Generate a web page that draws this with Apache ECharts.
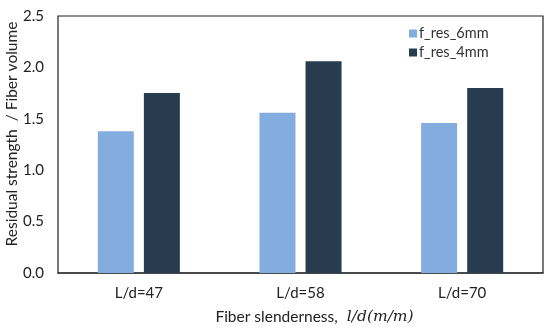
<!DOCTYPE html>
<html><head><meta charset="utf-8">
<script src="https://cdn.jsdelivr.net/npm/echarts@6/dist/echarts.min.js"></script>
<style>html,body{margin:0;padding:0;background:#fff}#c{width:550px;height:330px}</style>
</head><body><div id="c"></div>
<script>
const categories = ['L/d=47', 'L/d=58', 'L/d=70'];
const f_res_6mm = [1.38, 1.56, 1.46];
const f_res_4mm = [1.75, 2.06, 1.80];
const yTicks = { min: 0, max: 2.5, interval: 0.5 };

const chart = echarts.init(document.getElementById('c'));
const font = 'Lato, "Open Sans", sans-serif';
chart.setOption({
  animation: false,
  grid: { left: 58, right: 7, top: 16, bottom: 57, show: true, borderColor: '#222', borderWidth: 1.2, backgroundColor: 'transparent', outerBoundsMode: 'none', containLabel: false },
  legend: {
    orient: 'vertical', left: 404, top: 21, itemWidth: 8, itemHeight: 8, itemGap: 4,
    icon: 'rect',
    textStyle: { fontFamily: font, fontSize: 14.5, color: '#333', padding: [0, 0, 0, -3] },
    data: ['f_res_6mm', 'f_res_4mm']
  },
  graphic: [{
    type: 'text', x: 12, y: 134, rotation: Math.PI / 2,
    style: { text: 'Residual strength  / Fiber volume', fontFamily: font, fontSize: 15.5, fill: '#222', align: 'center', verticalAlign: 'middle' }
  }],
  xAxis: {
    type: 'category', data: categories,
    axisLine: { lineStyle: { color: '#333', width: 1.5 } },
    axisTick: { show: false },
    axisLabel: { fontFamily: font, fontSize: 15, color: '#222', margin: 13 },
    name: '{a|Fiber slenderness, }{b|l/d(m/m)}',
    nameLocation: 'middle', nameGap: 36,
    nameTextStyle: {
      padding: [0, 0, 0, 28],
      rich: {
        a: { fontFamily: font, fontSize: 15.5, color: '#222' },
        b: { fontFamily: '"DejaVu Serif", serif', fontStyle: 'italic', fontSize: 15.5, color: '#222', padding: [0,0,0,5] }
      }
    }
  },
  yAxis: {
    type: 'value', min: yTicks.min, max: yTicks.max, interval: yTicks.interval,
    axisLine: { show: false }, axisTick: { show: false }, splitLine: { show: false },
    axisLabel: { fontFamily: font, fontSize: 15, color: '#222', margin: 14, formatter: v => v.toFixed(1) }
  },
  series: [
    { name: 'f_res_6mm', type: 'bar', data: f_res_6mm, barWidth: 36, barGap: '28%', itemStyle: { color: '#83ACDF' } },
    { name: 'f_res_4mm', type: 'bar', data: f_res_4mm, barWidth: 36, itemStyle: { color: '#283C50' } }
  ]
});
</script></body></html>
